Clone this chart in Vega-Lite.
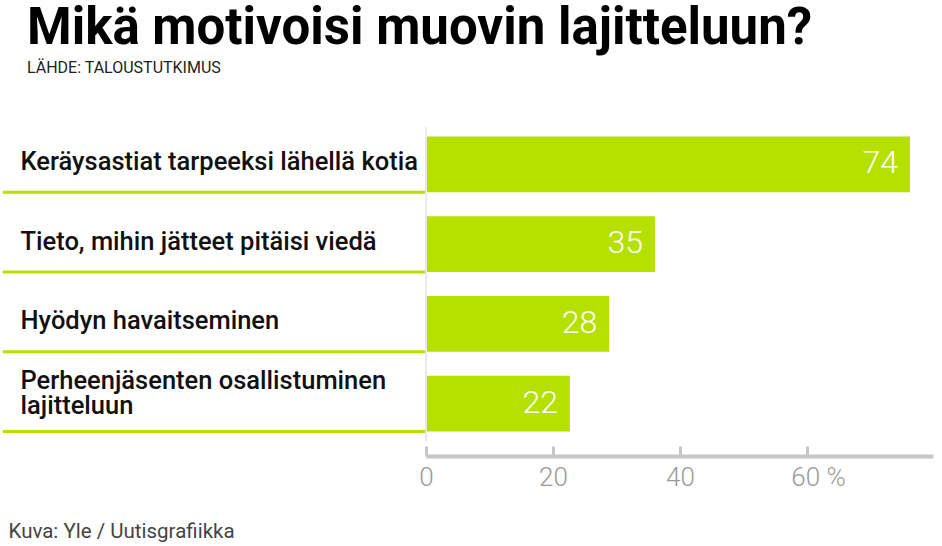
{
  "$schema": "https://vega.github.io/schema/vega-lite/v6.json",
  "autosize": "none",
  "width": 507,
  "height": 314,
  "padding": {"left": 426, "top": 127, "right": 9, "bottom": 105},
  "background": "white",
  "title": {
    "text": "Mikä motivoisi muovin lajitteluun?",
    "subtitle": "LÄHDE: TALOUSTUTKIMUS",
    "anchor": "start",
    "frame": "group",
    "dx": -399,
    "offset": 50,
    "font": "Roboto",
    "fontSize": 51,
    "fontWeight": "bold",
    "color": "#000000",
    "subtitleFont": "Roboto",
    "subtitleFontSize": 16,
    "subtitleColor": "#222222",
    "subtitlePadding": 5
  },
  "data": {
    "values": [
      {"label": "Keräysastiat tarpeeksi lähellä kotia", "value": 74},
      {"label": "Tieto, mihin jätteet pitäisi viedä", "value": 35},
      {"label": "Hyödyn havaitseminen", "value": 28},
      {"label": "Perheenjäsenten osallistuminen lajitteluun", "value": 22}
    ]
  },
  "config": {"view": {"stroke": null}},
  "resolve": {"scale": {"x": "independent"}, "axis": {"x": "independent"}},
  "layer": [
    {
      "layer": [
        {
          "mark": {"type": "bar", "color": "#b5e000"},
          "encoding": {
            "x": {"field": "value", "type": "quantitative"},
            "y": {"field": "label", "type": "nominal"}
          }
        },
        {
          "mark": {"type": "rule", "color": "#b5e000", "strokeWidth": 3},
          "encoding": {
            "x": {"datum": -64.7, "type": "quantitative"},
            "x2": {"datum": 0},
            "y": {"field": "label", "type": "nominal", "bandPosition": 1}
          }
        },
        {
          "mark": {"type": "text", "align": "right", "baseline": "middle", "dx": -12, "dy": -1, "color": "white", "font": "Roboto", "fontSize": 32, "fontWeight": 300},
          "encoding": {
            "x": {"field": "value", "type": "quantitative"},
            "y": {"field": "label", "type": "nominal"},
            "text": {"field": "value", "type": "quantitative"}
          }
        }
      ],
      "encoding": {
        "x": {"type": "quantitative", "scale": {"domain": [0, 77.52], "nice": false, "zero": false}, "axis": null},
        "y": {
          "type": "nominal",
          "sort": null,
          "scale": {"paddingInner": 0.3, "paddingOuter": 0.12},
          "axis": {
            "title": null,
            "domain": false,
            "ticks": false,
            "labelAlign": "left",
            "labelBaseline": "middle",
            "labelPadding": 406,
            "labelLimit": 0,
            "labelFont": "Roboto",
            "labelFontSize": 25.5,
            "labelFontWeight": 500,
            "labelColor": "#111111",
            "labelLineHeight": 25,
            "labelOffset": {"condition": {"test": "indexof(datum.value, 'Perheen') >= 0", "value": -23}, "value": -2.5},
            "labelExpr": "indexof(datum.value, 'Perheen') >= 0 ? ['Perheenjäsenten osallistuminen', 'lajitteluun'] : datum.value"
          }
        }
      }
    },
    {
      "mark": {"type": "rule", "color": "#e8e8e8", "strokeWidth": 1},
      "encoding": {
        "x": {
          "datum": 0,
          "type": "quantitative",
          "scale": {"domain": [0, 79.84], "nice": false},
          "axis": {
            "values": [0, 20, 40, 60],
            "offset": 15,
            "grid": false,
            "domainColor": "#c6c6c6",
            "domainWidth": 4,
            "tickColor": "#c6c6c6",
            "tickWidth": 3,
            "tickSize": -10,
            "labelPadding": 18,
            "labelFont": "Roboto",
            "labelFontSize": 26,
            "labelFontWeight": 300,
            "labelColor": "#9a9a9a",
            "labelExpr": "datum.value == 60 ? '60 %' : datum.label",
            "labelOffset": {"condition": {"test": "datum.value == 60", "value": 11}, "value": 0},
            "labelFlush": false,
            "labelOverlap": false,
            "title": "Kuva: Yle / Uutisgrafiikka",
            "titleX": -418,
            "titleY": 81,
            "titleAlign": "left",
            "titleAnchor": null,
            "titleBaseline": "alphabetic",
            "titleFont": "Roboto",
            "titleFontSize": 20.5,
            "titleFontWeight": 400,
            "titleColor": "#444444"
          }
        }
      }
    }
  ]
}
